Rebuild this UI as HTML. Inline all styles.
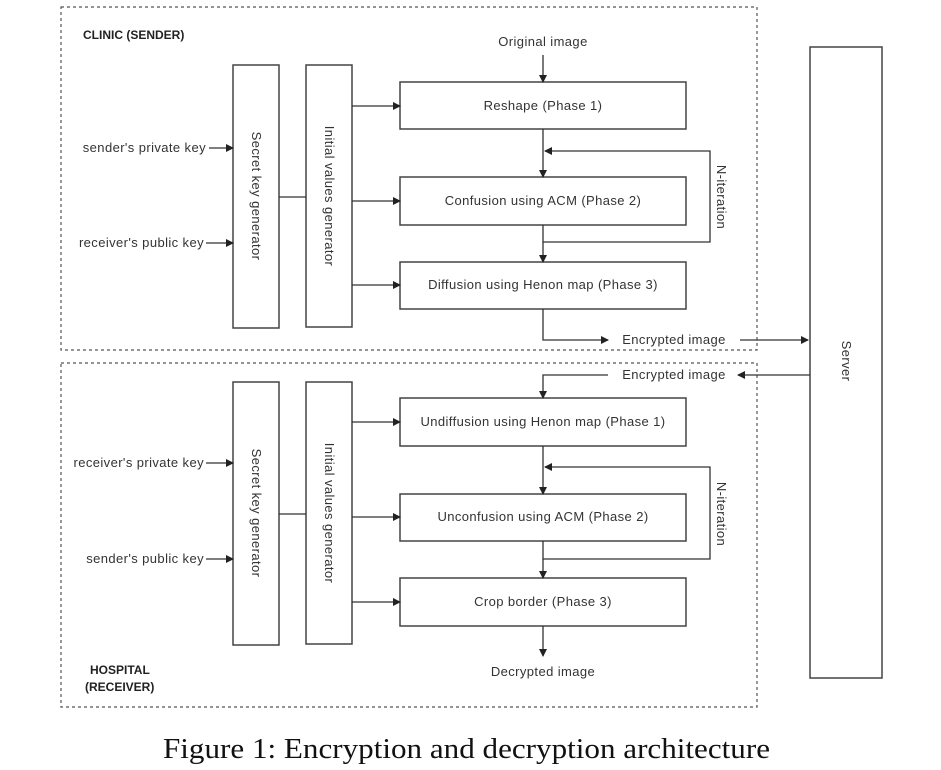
<!DOCTYPE html>
<html><head><meta charset="utf-8"><style>
html,body{margin:0;padding:0;background:#fff;width:941px;height:770px;overflow:hidden}
svg text{font-family:"Liberation Sans",Arial,sans-serif;fill:#333;font-size:13px;letter-spacing:0.4px}
</style></head><body>
<svg width="941" height="770" viewBox="0 0 941 770" xmlns="http://www.w3.org/2000/svg">
<defs><marker id="a" markerWidth="8" markerHeight="8" refX="7" refY="4" orient="auto" markerUnits="userSpaceOnUse"><path d="M0,0 L8,4 L0,8 z" fill="#222"/></marker></defs>
<g fill="none" stroke="#555" stroke-width="1.2" stroke-dasharray="3,3">
<rect x="61" y="7" width="696" height="343"/>
<rect x="61" y="363" width="696" height="344"/>
</g>
<g fill="#fff" stroke="#444" stroke-width="1.5">
<rect x="233" y="65" width="46" height="263"/><rect x="306" y="65" width="46" height="262"/>
<rect x="400" y="82" width="286" height="47"/><rect x="400" y="177" width="286" height="48"/><rect x="400" y="262" width="286" height="47"/>
<rect x="810" y="47" width="72" height="631"/>
<rect x="233" y="382" width="46" height="263"/><rect x="306" y="382" width="46" height="262"/>
<rect x="400" y="398" width="286" height="48"/><rect x="400" y="494" width="286" height="47"/><rect x="400" y="578" width="286" height="48"/>
</g>
<g fill="none" stroke="#333" stroke-width="1.3" marker-end="url(#a)">
<line x1="543" y1="55" x2="543" y2="82"/>
<line x1="543" y1="129" x2="543" y2="177"/>
<polyline points="543,225 543,242 710,242 710,151 545,151"/>
<line x1="543" y1="242" x2="543" y2="262"/>
<polyline points="543,309 543,340 608,340"/>
<line x1="740" y1="340" x2="808" y2="340"/>
<line x1="352" y1="106" x2="400" y2="106"/><line x1="352" y1="201" x2="400" y2="201"/><line x1="352" y1="285" x2="400" y2="285"/>
<line x1="209" y1="148" x2="233" y2="148"/><line x1="206" y1="243" x2="233" y2="243"/>
<line x1="810" y1="375" x2="738" y2="375"/>
<polyline points="608,375 543,375 543,398"/>
<line x1="543" y1="446" x2="543" y2="494"/>
<polyline points="543,541 543,559 710,559 710,467 545,467"/>
<line x1="543" y1="559" x2="543" y2="578"/>
<line x1="543" y1="626" x2="543" y2="656"/>
<line x1="352" y1="422" x2="400" y2="422"/><line x1="352" y1="517" x2="400" y2="517"/><line x1="352" y1="602" x2="400" y2="602"/>
<line x1="206" y1="463" x2="233" y2="463"/><line x1="206" y1="559" x2="233" y2="559"/>
</g>
<g stroke="#333" stroke-width="1.3"><line x1="279" y1="197" x2="306" y2="197"/><line x1="279" y1="514" x2="306" y2="514"/></g>
<text x="83" y="39" style="font-weight:bold;font-size:12px;fill:#222;letter-spacing:0">CLINIC (SENDER)</text>
<text x="90" y="674" style="font-weight:bold;font-size:12px;fill:#222;letter-spacing:0">HOSPITAL</text>
<text x="85" y="691" style="font-weight:bold;font-size:12px;fill:#222;letter-spacing:0">(RECEIVER)</text>
<g text-anchor="middle">
<text x="543" y="46">Original image</text>
<text x="543" y="110">Reshape (Phase 1)</text>
<text x="543" y="205">Confusion using ACM (Phase 2)</text>
<text x="543" y="289">Diffusion using Henon map (Phase 3)</text>
<text x="674" y="344">Encrypted image</text>
<text x="674" y="379">Encrypted image</text>
<text x="543" y="426">Undiffusion using Henon map (Phase 1)</text>
<text x="543" y="521">Unconfusion using ACM (Phase 2)</text>
<text x="543" y="606">Crop border (Phase 3)</text>
<text x="543" y="676">Decrypted image</text>
<text transform="translate(252,196) rotate(90)">Secret key generator</text>
<text transform="translate(325,196) rotate(90)">Initial values generator</text>
<text transform="translate(252,513) rotate(90)">Secret key generator</text>
<text transform="translate(325,513) rotate(90)">Initial values generator</text>
<text transform="translate(717,197) rotate(90)">N-iteration</text>
<text transform="translate(717,514) rotate(90)">N-iteration</text>
<text transform="translate(842,361) rotate(90)">Server</text>
</g>
<g text-anchor="end">
<text x="206" y="152">sender's private key</text>
<text x="204" y="247">receiver's public key</text>
<text x="204" y="467">receiver's private key</text>
<text x="204" y="563">sender's public key</text>
</g>
<text x="163" y="758" textLength="607" lengthAdjust="spacingAndGlyphs" style="font-family:'Liberation Serif',serif;font-size:28px;fill:#111;letter-spacing:0">Figure 1: Encryption and decryption architecture</text>
</svg>
</body></html>
